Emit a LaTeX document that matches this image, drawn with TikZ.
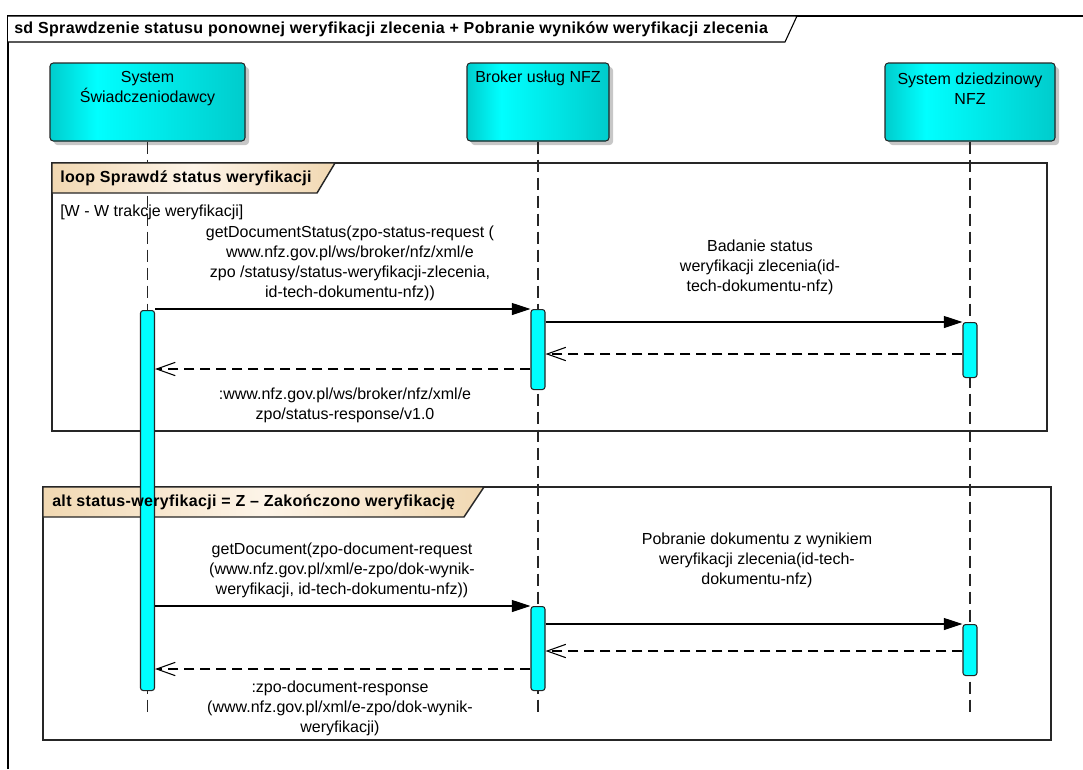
\documentclass[tikz,border=0pt]{standalone}
\usepackage{fontspec}
\setmainfont{Liberation Sans}
\newfontfamily\spacedfont[LetterSpace=2.2]{Liberation Sans}
\usetikzlibrary{arrows.meta,shadows,positioning,calc}

\definecolor{headlite}{RGB}{0,255,255}
\definecolor{headdark}{RGB}{0,204,204}
\definecolor{headdeep}{RGB}{0,96,96}
\definecolor{tablite}{RGB}{253,244,232}
\definecolor{tabdark}{RGB}{241,216,178}
\definecolor{shadowgray}{RGB}{200,200,200}

\tikzset{
  head/.style={draw=black!85, line width=0.8pt, rounded corners=2.5pt, fill=headdark,
    minimum height=58.5pt, inner sep=0pt,
    drop shadow={shadow xshift=3pt, shadow yshift=-3pt, fill=black!22, opacity=1},
    path picture={
      \fill[left color=headdeep, right color=headdark, middle color=headlite]
        ($(path picture bounding box.south west)!-0.52!(path picture bounding box.south east)$) rectangle
        (path picture bounding box.north east);
    }},
  headtxt/.style={font=\fontsize{12}{15}\selectfont, align=center, inner sep=0pt},
  lifeline/.style={line width=0.8pt, black!85, dash pattern=on 9pt off 4.5pt},
  frame/.style={draw=black!85, line width=1.1pt, fill=white,
    drop shadow={shadow xshift=1pt, shadow yshift=-1pt, fill=shadowgray, opacity=1}},
  tab/.style={draw=black!85, line width=1.1pt, left color=tabdark, right color=tabdark, middle color=tablite},
  tabtxt/.style={font=\spacedfont\fontsize{12}{15}\selectfont\bfseries, anchor=west, inner sep=0pt},
  act/.style={draw=black!85, line width=0.8pt, fill=headlite, rounded corners=2pt,
    minimum width=10.5pt, inner sep=0pt, anchor=north},
  call/.style={line width=0.8pt, -{Triangle[length=14pt,width=9pt]}},
  reply/.style={line width=0.8pt, dash pattern=on 7.5pt off 4.5pt, -{Straight Barb[length=14pt,width=10pt]}},
  msgtxt/.style={font=\fontsize{12}{15}\selectfont, align=center, inner sep=0pt}
}

\begin{document}
\begin{tikzpicture}[x=0.75pt,y=-0.75pt]
  \useasboundingbox (0,0) rectangle (1083,769);

  \draw[line width=0.8pt] (8,769) -- (8,16) -- (1083,16);
  \draw[line width=0.8pt, fill=white] (8,16) -- (797,16) -- (785,42) -- (8,42);
  \node[tabtxt] (title) at (14,29) {sd Sprawdzenie statusu ponownej weryfikacji zlecenia + Pobranie wyników weryfikacji zlecenia};

  \draw[frame] (52,163) rectangle (1047,431);
  \draw[frame] (43,487) rectangle (1051,740);

  \node[head, minimum width=146.25pt] (sysSw) at (147.5,102) {};
  \node[head, minimum width=106.5pt] (broker) at (538,102) {};
  \node[head, minimum width=127.5pt] (sysNfz) at (970,102) {};
  \node[headtxt] at (147.5,89) {System\\Świadczeniodawcy};
  \node[headtxt] at (538,78) {Broker usług NFZ};
  \node[headtxt] at (970,89) {System dziedzinowy\\NFZ};

  \draw[lifeline] (sysSw) -- (sysSw |- 0,715);
  \draw[lifeline] (broker) -- (broker |- 0,715);
  \draw[lifeline] (sysNfz) -- (sysNfz |- 0,715);

  \draw[tab] (52,163) -- (335,163) -- (317,193) -- (52,193) -- cycle;
  \draw[tab] (43,487) -- (484,487) -- (464,517) -- (43,517) -- cycle;
  \node[msgtxt, anchor=west] (guard) at (60,212) {[W - W trakcje weryfikacji]};

  \node[act, minimum height=285pt] (actSw) at (147.5,310) {};
  \node[act, minimum height=60pt] (actBr1) at (538,309) {};
  \node[act, minimum height=41.25pt] (actNfz1) at (970,322) {};
  \node[act, minimum height=63pt] (actBr2) at (538,606) {};
  \node[act, minimum height=38.25pt] (actNfz2) at (970,624) {};

  \node[tabtxt] (loopLbl) at (60,178) {loop Sprawdź status weryfikacji};
  \node[tabtxt] (altLbl) at (52,502) {alt status-weryfikacji = Z – Zakończono weryfikację};

  \draw[call] (actSw.east |- actBr1.north) -- (actBr1.north west);
  \node[msgtxt] (lblStatus) at (350,263) {getDocumentStatus(zpo-status-request (\\www.nfz.gov.pl/ws/broker/nfz/xml/e\\zpo /statusy/status-weryfikacji-zlecenia,\\id-tech-dokumentu-nfz))};
  \draw[call] (actBr1.east |- actNfz1.north) -- (actNfz1.north west);
  \node[msgtxt] (lblBadanie) at (760,267) {Badanie status\\weryfikacji zlecenia(id-\\tech-dokumentu-nfz)};
  \draw[reply] (actNfz1.west |- 0,354) -- (actBr1.east |- 0,354);
  \draw[reply] (actBr1.west |- 0,369) -- (actSw.east |- 0,369);
  \node[msgtxt] (lblResp) at (345,405) {:www.nfz.gov.pl/ws/broker/nfz/xml/e\\zpo/status-response/v1.0};

  \draw[call] (actSw.east |- actBr2.north) -- (actBr2.north west);
  \node[msgtxt] (lblGetDoc) at (342,570) {getDocument(zpo-document-request\\(www.nfz.gov.pl/xml/e-zpo/dok-wynik-\\weryfikacji, id-tech-dokumentu-nfz))};
  \draw[call] (actBr2.east |- actNfz2.north) -- (actNfz2.north west);
  \node[msgtxt] (lblPobranie) at (757,560) {Pobranie dokumentu z wynikiem\\weryfikacji zlecenia(id-tech-\\dokumentu-nfz)};
  \draw[reply] (actNfz2.west |- 0,651) -- (actBr2.east |- 0,651);
  \draw[reply] (actBr2.west |- 0,669) -- (actSw.east |- 0,669);
  \node[msgtxt] (lblDocResp) at (340,708) {:zpo-document-response\\(www.nfz.gov.pl/xml/e-zpo/dok-wynik-\\weryfikacji)};
\end{tikzpicture}
\end{document}
